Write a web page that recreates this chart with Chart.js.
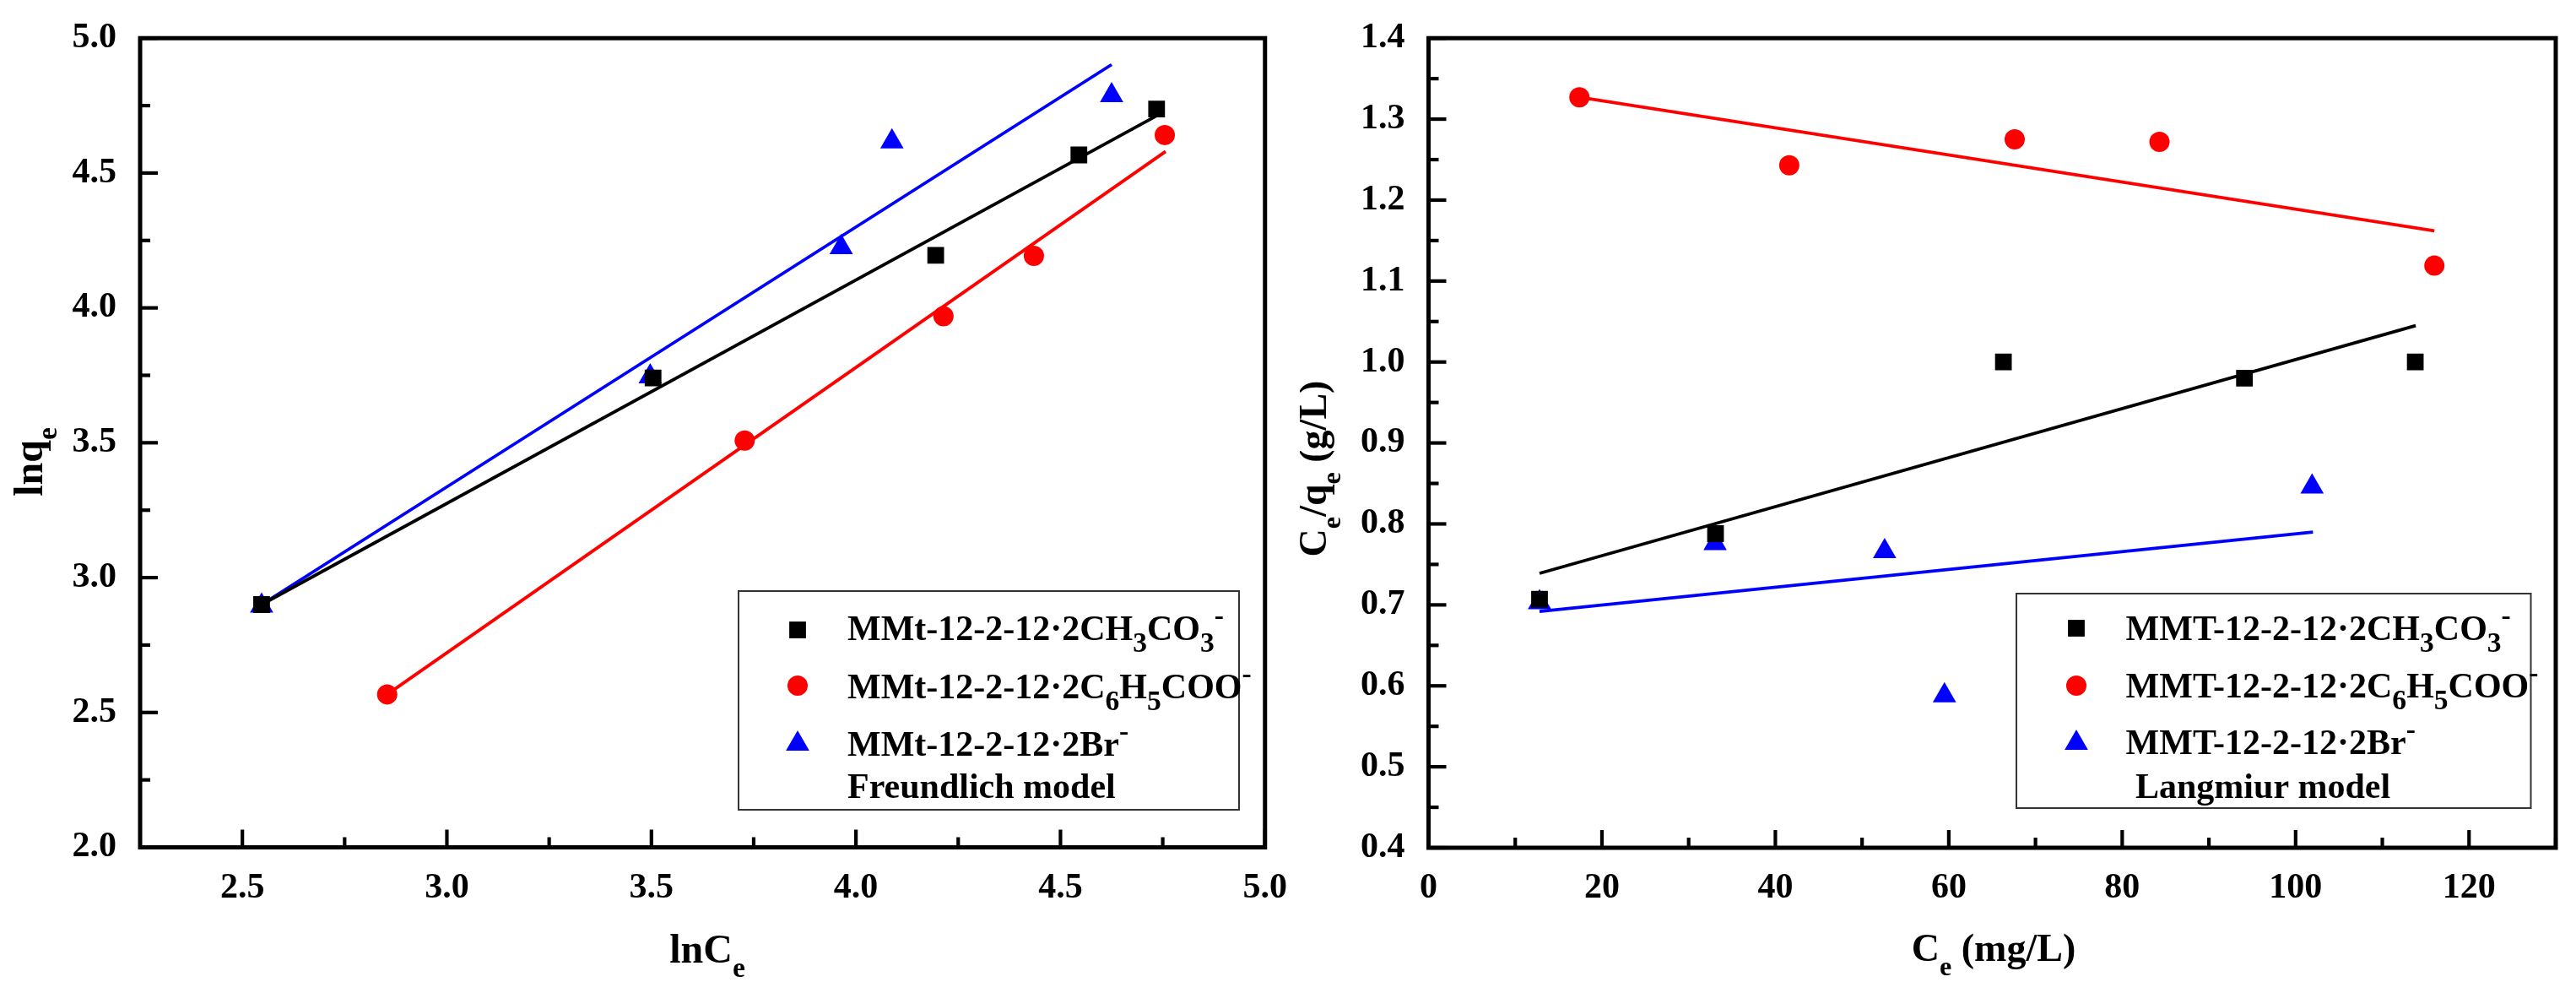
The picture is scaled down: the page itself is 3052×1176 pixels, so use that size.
<!DOCTYPE html>
<html>
<head>
<meta charset="utf-8">
<script src="https://cdn.jsdelivr.net/npm/chart.js@4.4.0/dist/chart.umd.min.js"></script>
<style>
  html, body { margin: 0; padding: 0; background: #fff; }
  body { width: 3052px; height: 1176px; position: relative; overflow: hidden; }
  .panel { position: absolute; top: 0; }
  #leftPanel { left: 0; }
  #rightPanel { left: 1540px; }
</style>
</head>
<body>
<div class="panel" id="leftPanel"><canvas id="freundlichChart" width="1540" height="1176"></canvas></div>
<div class="panel" id="rightPanel"><canvas id="langmuirChart" width="1512" height="1176"></canvas></div>
<script>
// ---- Freundlich model (lnCe vs lnqe) ----
const fLnCeCH3CO3 = [2.547, 3.504, 4.195, 4.545, 4.735];
const fLnQeCH3CO3 = [2.900, 3.740, 4.195, 4.567, 4.737];
const fLnCeC6H5COO = [2.854, 3.728, 4.214, 4.435, 4.755];
const fLnQeC6H5COO = [2.567, 3.508, 3.969, 4.193, 4.641];
const fLnCeBr = [2.547, 3.497, 3.964, 4.088, 4.625];
const fLnQeBr = [2.895, 3.745, 4.224, 4.616, 4.788];
// fitted lines, read as end points
const fFitXCH3CO3 = [2.547, 4.735];
const fFitYCH3CO3 = [2.900, 4.712];
const fFitXC6H5COO = [2.854, 4.757];
const fFitYC6H5COO = [2.567, 4.580];
const fFitXBr = [2.547, 4.625];
const fFitYBr = [2.900, 4.902];

const fXTicks = [2.5, 3.0, 3.5, 4.0, 4.5, 5.0];
const fXMinor = [2.75, 3.25, 3.75, 4.25, 4.75];
const fYTicks = [2.0, 2.5, 3.0, 3.5, 4.0, 4.5, 5.0];
const fYMinor = [2.25, 2.75, 3.25, 3.75, 4.25, 4.75];

// ---- Langmuir model (Ce vs Ce/qe) ----
const lCeCH3CO3 = [12.8, 33.1, 66.3, 94.1, 113.8];
const lRatioCH3CO3 = [0.707, 0.788, 1.000, 0.980, 1.000];
const lCeC6H5COO = [17.4, 41.6, 67.6, 84.3, 116.0];
const lRatioC6H5COO = [1.327, 1.243, 1.275, 1.272, 1.119];
const lCeBr = [12.8, 33.05, 52.6, 59.5, 101.9];
const lRatioBr = [0.703, 0.776, 0.766, 0.588, 0.846];
const lFitXCH3CO3 = [12.8, 113.85];
const lFitYCH3CO3 = [0.739, 1.045];
const lFitXC6H5COO = [17.4, 116.0];
const lFitYC6H5COO = [1.327, 1.162];
const lFitXBr = [12.8, 102.0];
const lFitYBr = [0.692, 0.790];

const lXTicks = [0, 20, 40, 60, 80, 100, 120];
const lXMinor = [10, 30, 50, 70, 90, 110, 130];
const lYTicks = [0.4, 0.5, 0.6, 0.7, 0.8, 0.9, 1.0, 1.1, 1.2, 1.3, 1.4];
const lYMinor = [0.45, 0.55, 0.65, 0.75, 0.85, 0.95, 1.05, 1.15, 1.25, 1.35];

// legend labels: [text, '' | 'sub' | 'sup']
const freundlichLabels = [
  [['MMt-12-2-12\u00b72CH', ''], ['3', 'sub'], ['CO', ''], ['3', 'sub'], ['-', 'sup']],
  [['MMt-12-2-12\u00b72C', ''], ['6', 'sub'], ['H', ''], ['5', 'sub'], ['COO', ''], ['-', 'sup']],
  [['MMt-12-2-12\u00b72Br', ''], ['-', 'sup']]
];
const langmuirLabels = [
  [['MMT-12-2-12\u00b72CH', ''], ['3', 'sub'], ['CO', ''], ['3', 'sub'], ['-', 'sup']],
  [['MMT-12-2-12\u00b72C', ''], ['6', 'sub'], ['H', ''], ['5', 'sub'], ['COO', ''], ['-', 'sup']],
  [['MMT-12-2-12\u00b72Br', ''], ['-', 'sup']]
];

const SERIF = '"Liberation Serif", "Times New Roman", serif';
const font = (size) => `bold ${size}px ${SERIF}`;

const markerStyles = [
  { color: '#000000', style: 'rect', radius: 14 },
  { color: '#ff0000', style: 'circle', radius: 12 },
  { color: '#0000ff', style: 'triangle', radius: 16 }
];

function pairs(xs, ys) {
  return xs.map((v, i) => ({ x: v, y: ys[i] }));
}

function pointSet(xs, ys, m) {
  return {
    data: pairs(xs, ys), showLine: false,
    backgroundColor: m.color, borderColor: m.color,
    pointStyle: m.style, pointRadius: m.radius, pointBorderWidth: 0
  };
}

function fitSet(xs, ys, color) {
  return {
    data: pairs(xs, ys), showLine: true, pointRadius: 0,
    borderColor: color, backgroundColor: color, borderWidth: 3.8, fill: false
  };
}

// draws text with sub/superscripts, returns width
function drawRich(ctx, parts, x, y, size, cfg, measureOnly) {
  let cx = x;
  parts.forEach(([text, mode]) => {
    let s = size, dy = 0;
    if (mode === 'sub') { s = size * cfg.subScale; dy = size * cfg.subShift; }
    if (mode === 'sup') { s = size * cfg.subScale; dy = -size * cfg.supShift; }
    ctx.font = font(s);
    if (!measureOnly) ctx.fillText(text, cx, y + dy);
    cx += ctx.measureText(text).width;
  });
  return cx - x;
}

const decorPlugin = {
  id: 'decor',
  afterDraw(chart, args, o) {
    const { ctx, chartArea: a } = chart;
    const xs = chart.scales.x, ys = chart.scales.y;
    ctx.save();
    ctx.strokeStyle = '#000';
    ctx.lineCap = 'butt';

    // ticks, pointing inward
    ctx.lineWidth = 4.2;
    const tick = (x1, y1, x2, y2) => { ctx.beginPath(); ctx.moveTo(x1, y1); ctx.lineTo(x2, y2); ctx.stroke(); };
    o.xMajor.forEach(v => { const p = xs.getPixelForValue(v); tick(p, a.bottom, p, a.bottom - 21); });
    o.xMinor.forEach(v => { const p = xs.getPixelForValue(v); tick(p, a.bottom, p, a.bottom - 12); });
    o.yMajor.forEach(v => { const p = ys.getPixelForValue(v); tick(a.left, p, a.left + 21, p); });
    o.yMinor.forEach(v => { const p = ys.getPixelForValue(v); tick(a.left, p, a.left + 12, p); });

    // frame
    ctx.lineWidth = 5;
    ctx.strokeRect(a.left, a.top, a.right - a.left, a.bottom - a.top);

    ctx.fillStyle = '#000';
    ctx.textBaseline = 'alphabetic';
    ctx.textAlign = 'left';
    const tcfg = { subScale: 0.7, subShift: 0.36, supShift: 0.4 };

    // x title
    const xw = drawRich(ctx, o.xTitle, 0, 0, o.titleSize, tcfg, true);
    drawRich(ctx, o.xTitle, o.xTitlePos[0] - xw / 2, o.xTitlePos[1], o.titleSize, tcfg);

    // y title (rotated)
    const yw = drawRich(ctx, o.yTitle, 0, 0, o.titleSize, tcfg, true);
    ctx.save();
    ctx.translate(o.yTitlePos[0], o.yTitlePos[1]);
    ctx.rotate(-Math.PI / 2);
    drawRich(ctx, o.yTitle, -yw / 2, 0, o.titleSize, tcfg);
    ctx.restore();

    // legend box
    const L = o.legend;
    ctx.lineWidth = 2;
    ctx.strokeStyle = '#333';
    ctx.strokeRect(L.box[0], L.box[1], L.box[2], L.box[3]);
    const lcfg = { subScale: 0.8, subShift: 0.33, supShift: 0.42 };
    L.labels.forEach((parts, i) => {
      const m = markerStyles[i];
      ctx.fillStyle = m.color;
      Chart.helpers.drawPoint(ctx, { pointStyle: m.style, radius: m.radius, borderWidth: 0, rotation: 0 }, L.markerX, L.markerY[i]);
      ctx.fillStyle = '#000';
      drawRich(ctx, parts, L.textX, L.baselines[i], L.size, lcfg);
    });
    ctx.font = font(L.size);
    ctx.fillText(L.note, L.noteX, L.noteBaseline);
    ctx.restore();
  }
};

function axis(min, max, values, fmt, pad, fit, horizontal) {
  return {
    type: 'linear', min, max,
    grid: { display: false },
    border: { display: false },
    ticks: { font: { family: SERIF, size: 42, weight: 'bold' }, color: '#000', padding: pad, callback: fmt, autoSkip: false, maxRotation: 0 },
    afterBuildTicks: (scale) => { scale.ticks = values.map(v => ({ value: v })); },
    afterFit: (scale) => { if (horizontal) scale.height = fit; else scale.width = fit; }
  };
}

function buildChart(id, datasets, scales, padding, decor) {
  return new Chart(document.getElementById(id), {
    type: 'scatter',
    data: { datasets },
    options: {
      responsive: false, animation: false, devicePixelRatio: 1,
      layout: { padding },
      plugins: { legend: { display: false }, tooltip: { enabled: false }, decor },
      scales
    },
    plugins: [decorPlugin]
  });
}

buildChart('freundlichChart', [
  pointSet(fLnCeCH3CO3, fLnQeCH3CO3, markerStyles[0]),
  pointSet(fLnCeC6H5COO, fLnQeC6H5COO, markerStyles[1]),
  pointSet(fLnCeBr, fLnQeBr, markerStyles[2]),
  fitSet(fFitXCH3CO3, fFitYCH3CO3, '#000000'),
  fitSet(fFitXC6H5COO, fFitYC6H5COO, '#ff0000'),
  fitSet(fFitXBr, fFitYBr, '#0000ff')
], {
  x: axis(2.25, 5.0, fXTicks, v => v.toFixed(1), 15, 1176 - 1003.5, true),
  y: axis(2.0, 5.0, fYTicks, v => v.toFixed(1), 20, 166, false)
}, { left: 0, top: 34, right: 1540 - 1502, bottom: 0 }, {
  xMajor: fXTicks, xMinor: fXMinor, yMajor: fYTicks, yMinor: fYMinor,
  titleSize: 48,
  xTitle: [['lnC', ''], ['e', 'sub']], xTitlePos: [838, 1140],
  yTitle: [['lnq', ''], ['e', 'sub']], yTitlePos: [50, 547],
  legend: {
    box: [875, 700, 593, 259], markerX: 945, markerY: [746, 812, 881],
    textX: 1004, baselines: [758, 827, 895], size: 42, labels: freundlichLabels,
    note: 'Freundlich model', noteX: 1004, noteBaseline: 945
  }
});

buildChart('langmuirChart', [
  pointSet(lCeCH3CO3, lRatioCH3CO3, markerStyles[0]),
  pointSet(lCeC6H5COO, lRatioC6H5COO, markerStyles[1]),
  pointSet(lCeBr, lRatioBr, markerStyles[2]),
  fitSet(lFitXCH3CO3, lFitYCH3CO3, '#000000'),
  fitSet(lFitXC6H5COO, lFitYC6H5COO, '#ff0000'),
  fitSet(lFitXBr, lFitYBr, '#0000ff')
], {
  x: axis(0, 130, lXTicks, v => String(v), 15, 1176 - 1004, true),
  y: axis(0.4, 1.4, lYTicks, v => v.toFixed(1), 20, 152.5, false)
}, { left: 0, top: 34, right: 1512 - 1488, bottom: 0 }, {
  xMajor: lXTicks, xMinor: lXMinor, yMajor: lYTicks, yMinor: lYMinor,
  titleSize: 46,
  xTitle: [['C', ''], ['e', 'sub'], [' (mg/L)', '']], xTitlePos: [822, 1138],
  yTitle: [['C', ''], ['e', 'sub'], ['/q', ''], ['e', 'sub'], [' (g/L)', '']], yTitlePos: [31, 555],
  legend: {
    box: [849, 703, 609.5, 254], markerX: 920, markerY: [744, 812, 880],
    textX: 978.6, baselines: [758, 826, 893], size: 42, labels: langmuirLabels,
    note: 'Langmiur model', noteX: 990, noteBaseline: 945
  }
});
</script>
</body>
</html>
